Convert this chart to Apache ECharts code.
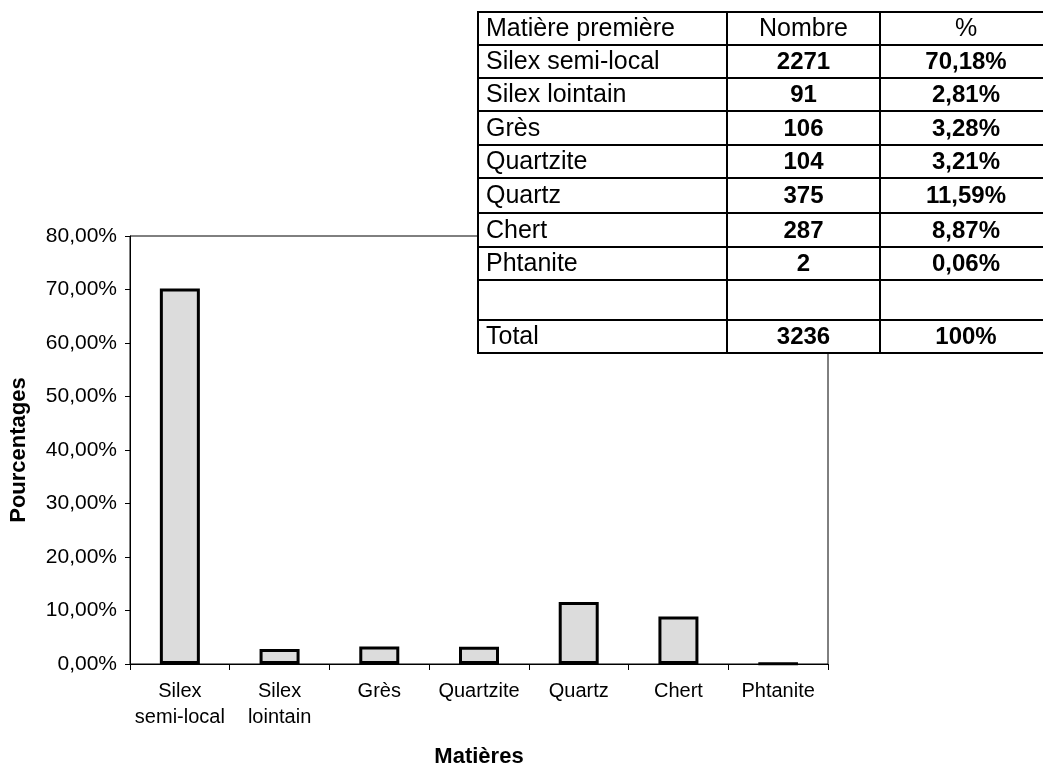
<!DOCTYPE html>
<html>
<head>
<meta charset="utf-8">
<script src="https://cdn.jsdelivr.net/npm/echarts@6/dist/echarts.min.js"></script>
<style>
html,body{margin:0;padding:0;background:#fff;overflow:hidden;}
#chart{width:1043px;height:773px;}
</style>
</head>
<body>
<div id="chart"></div>
<script>
// ---- Data ----
const categories = ['Silex\nsemi-local', 'Silex\nlointain', 'Grès', 'Quartzite', 'Quartz', 'Chert', 'Phtanite'];
const percentages = [70.18, 2.81, 3.28, 3.21, 11.59, 8.87, 0.06];
const yMin = 0, yMax = 80, yStep = 10;

const tableHeader = ['Matière première', 'Nombre', '%'];
const tableNames = ['Silex semi-local', 'Silex lointain', 'Grès', 'Quartzite', 'Quartz', 'Chert', 'Phtanite', '', 'Total'];
const tableCounts = ['2271', '91', '106', '104', '375', '287', '2', '', '3236'];
const tablePercents = ['70,18%', '2,81%', '3,28%', '3,21%', '11,59%', '8,87%', '0,06%', '', '100%'];

// ---- Table layout (graphic) ----
const FONT = "'Liberation Sans', Arial, sans-serif";
const tLeft = 478, tTop = 12;
const colX = [478, 727, 880, 1052];
const rowH = [33, 33, 33, 34, 33, 35, 34, 33, 40, 33];
const rowsTop = [];
let yy = tTop;
for (let i = 0; i < rowH.length; i++) { rowsTop.push(yy); yy += rowH[i]; }
const tBottom = yy;

const g = [];
g.push({type: 'rect', shape: {x: tLeft, y: tTop, width: colX[3] - tLeft, height: tBottom - tTop},
  style: {fill: '#fff', stroke: null}, z: 100});
for (let i = 0; i <= rowH.length; i++) {
  const y = i < rowH.length ? rowsTop[i] : tBottom;
  g.push({type: 'line', shape: {x1: tLeft - 1, y1: y, x2: colX[3], y2: y},
    style: {stroke: '#000', lineWidth: 2}, z: 101});
}
colX.forEach(x => {
  g.push({type: 'line', shape: {x1: x, y1: tTop - 1, x2: x, y2: tBottom + 1},
    style: {stroke: '#000', lineWidth: 2}, z: 101});
});
function cellText(txt, col, row, bold) {
  if (!txt) return;
  const cy = rowsTop[row] + rowH[row] / 2 + 1;
  const isLeft = col === 0;
  const x = isLeft ? colX[0] + 8 : (colX[col] + colX[col + 1]) / 2;
  g.push({type: 'text', x: x, y: cy, z: 102,
    style: {text: txt, fill: '#000', font: (bold ? 'bold 24px ' : '25px ') + FONT,
      align: isLeft ? 'left' : 'center', verticalAlign: 'middle'}});
}
tableHeader.forEach((h, c) => cellText(h, c, 0, false));
tableNames.forEach((n, r) => {
  cellText(n, 0, r + 1, false);
  cellText(tableCounts[r], 1, r + 1, true);
  cellText(tablePercents[r], 2, r + 1, true);
});

// ---- Chart ----
const chart = echarts.init(document.getElementById('chart'), null, {renderer: 'canvas', width: 1043, height: 773});
chart.setOption({
  animation: false,
  backgroundColor: '#fff',
  grid: {left: 128, width: 700, top: 236, height: 434, show: true,
    borderColor: '#000', borderWidth: 1, containLabel: false},
  xAxis: {
    type: 'category', data: categories,
    name: 'Matières', nameLocation: 'middle', nameGap: 82,
    nameTextStyle: {fontFamily: FONT, fontWeight: 'bold', fontSize: 22, color: '#000'},
    axisLine: {lineStyle: {color: '#000', width: 1}},
    axisTick: {show: true, length: 6, lineStyle: {color: '#000'}},
    axisLabel: {fontFamily: FONT, fontSize: 20, color: '#000', lineHeight: 26, margin: 14, interval: 0},
    splitLine: {show: false}
  },
  yAxis: {
    type: 'value', min: yMin, max: yMax, interval: yStep,
    name: 'Pourcentages', nameLocation: 'middle', nameGap: 100, nameRotate: 90,
    nameTextStyle: {fontFamily: FONT, fontWeight: 'bold', fontSize: 22, color: '#000'},
    axisLine: {show: true, lineStyle: {color: '#000', width: 1}},
    axisTick: {show: true, length: 5, lineStyle: {color: '#000'}},
    axisLabel: {fontFamily: FONT, fontSize: 21, color: '#000', margin: 13,
      formatter: v => v.toFixed(2).replace('.', ',') + '%'},
    splitLine: {show: false}
  },
  series: [{
    type: 'bar', data: percentages, barWidth: 40,
    itemStyle: {color: '#dcdcdc', borderColor: '#000', borderWidth: 3}
  }],
  graphic: g
});
</script>
</body>
</html>
